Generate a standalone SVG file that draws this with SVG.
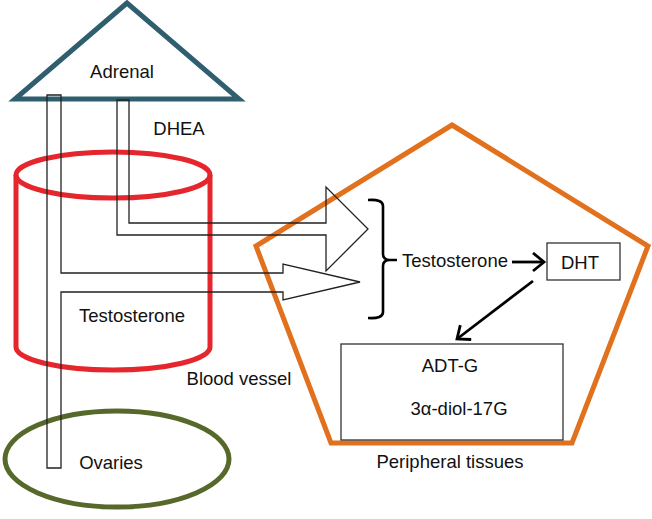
<svg xmlns="http://www.w3.org/2000/svg" width="652" height="519" viewBox="0 0 652 519">
<style>
text{font-family:"Liberation Sans",Arial,sans-serif;font-size:18.5px;fill:#111;text-anchor:middle}
.tube{fill:none;stroke:#222;stroke-width:1.3;stroke-linejoin:miter}
.box{fill:none;stroke:#333;stroke-width:1.3}
.arr{fill:none;stroke:#000;stroke-width:2.8}
</style>
<defs>
<marker id="chev" markerUnits="userSpaceOnUse" markerWidth="18" markerHeight="22" refX="13" refY="10" orient="auto">
<path d="M2,1 L13,10 L2,19" fill="none" stroke="#000" stroke-width="2.8" stroke-linejoin="miter"/>
</marker>
</defs>
<rect width="652" height="519" fill="#fff"/>
<g id="adrenal">
<polygon points="127,3 15,99 239,99" fill="#fff" stroke="#2f5f6e" stroke-width="5" stroke-linejoin="miter"/>
<text x="122" y="78">Adrenal</text>
</g>
<g id="blood-vessel">
<path d="M16,175 L16,347 A97,23 0 0 0 210,347 L210,175" fill="none" stroke="#e5262c" stroke-width="5"/>
<ellipse cx="113" cy="175" rx="97" ry="23" fill="none" stroke="#e5262c" stroke-width="5"/>
<text x="132" y="322">Testosterone</text>
<text x="239" y="385">Blood vessel</text>
</g>
<g id="ovaries">
<ellipse cx="117" cy="459" rx="112" ry="48" fill="none" stroke="#56692b" stroke-width="5"/>
<text x="111" y="469">Ovaries</text>
</g>
<g id="peripheral-tissues">
<polygon points="452,125 648,246 572,443 331,443 256,246" fill="none" stroke="#e2711e" stroke-width="5" stroke-linejoin="miter"/>
<text x="450" y="468">Peripheral tissues</text>
</g>
<g id="dhea-label">
<text x="179" y="135">DHEA</text>
</g>
<g id="connectors">
<polygon class="tube" points="117,100 129,100 129,223 326,223 326,187 368,229 326,271 326,235 117,235"/>
<polygon class="tube" points="47,95 61,95 61,273 283,273 283,264 360,282 283,300 283,292 61,292 61,468 47,468"/>
<path d="M368,200 Q383,199 383,206 L383,254 Q383,260 390,260 L397,260 M390,260 Q383,260 383,266 L383,312 Q383,319 368,318" fill="none" stroke="#000" stroke-width="2.6"/>
<line class="arr" x1="512" y1="262" x2="544" y2="262" marker-end="url(#chev)"/>
<line class="arr" x1="533" y1="281" x2="457" y2="339" marker-end="url(#chev)"/>
</g>
<g id="testosterone">
<text x="455" y="267">Testosterone</text>
</g>
<g id="dht">
<rect class="box" x="547" y="243" width="73" height="37" fill="#fff"/>
<text x="580" y="269">DHT</text>
</g>
<g id="metabolites">
<rect class="box" x="341" y="344" width="222" height="96" fill="#fff"/>
<text x="450" y="372">ADT-G</text>
<text x="459" y="415">3α-diol-17G</text>
</g>
</svg>
